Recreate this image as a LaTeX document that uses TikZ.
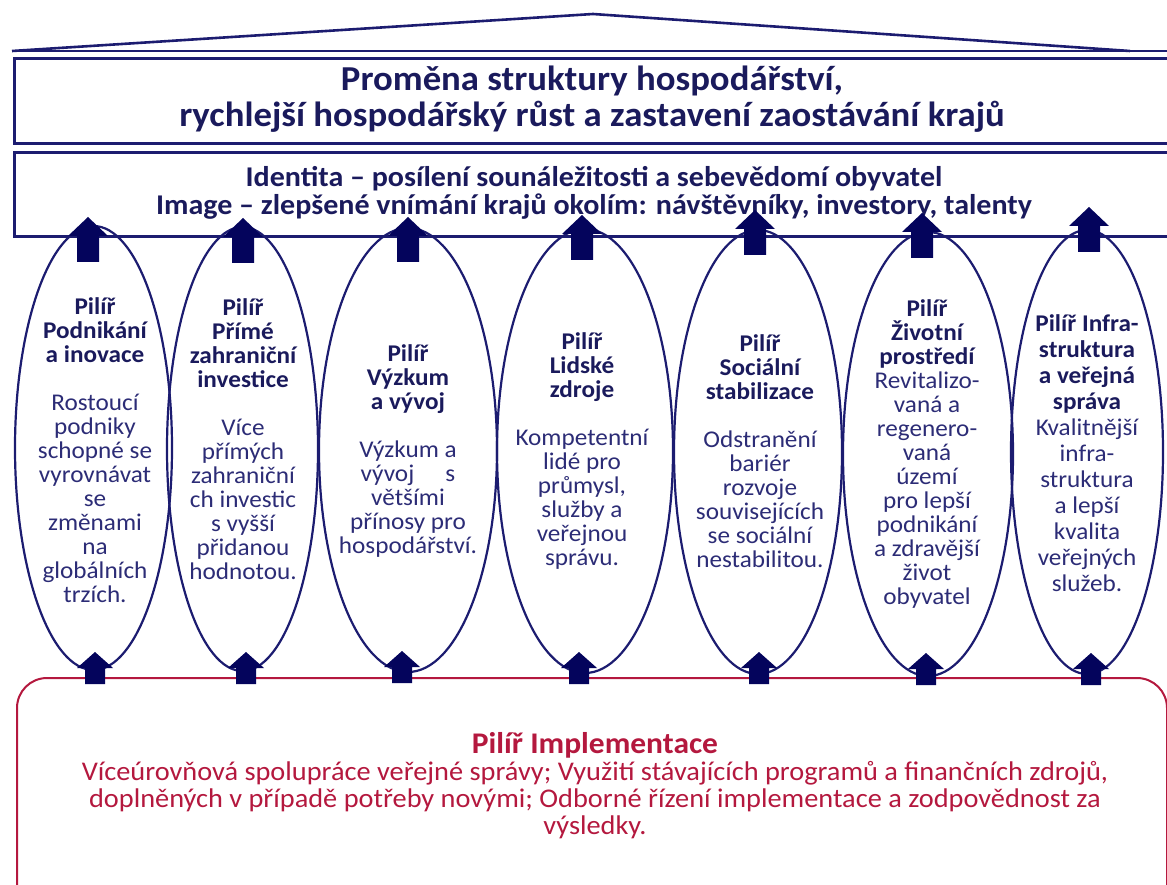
\documentclass[tikz,border=0pt]{standalone}
\usepackage{fontspec}
\setmainfont[FakeStretch=1.05]{Carlito}
\usetikzlibrary{shapes.geometric}
\definecolor{navy}{RGB}{28,28,112}
\definecolor{arrowc}{RGB}{4,4,92}
\definecolor{txtb}{RGB}{26,26,92}
\definecolor{txtn}{RGB}{44,44,118}
\definecolor{crim}{RGB}{180,24,62}
\begin{document}
\begin{tikzpicture}[x=1pt,y=-1pt,
  frame/.style={draw=navy,line width=2.6pt,rectangle,inner sep=0pt,anchor=north west},
  pillarline/.style={draw=navy,line width=2.2pt,ellipse,inner sep=0pt},
  ptext/.style={align=center,inner sep=0pt,text=txtn,font=\fontsize{24}{24}\selectfont},
  uparrowtop/.pic={\fill[arrowc] (0,0) -- (20,19) -- (11,19) -- (11,45) -- (-11,45) -- (-11,19) -- (-20,19) -- cycle;},
  uparrowbot/.pic={\fill[arrowc] (0,0) -- (18,16) -- (10,16) -- (10,32) -- (-10,32) -- (-10,16) -- (-18,16) -- cycle;}
]
\useasboundingbox (0,0) rectangle (1167,885);
% roof
\draw[navy,line width=2.6pt,line join=miter] (12,51) coordinate (rl) -- (593,14) coordinate (rp) -- (1130,51) coordinate (rr);
\draw[navy,line width=2.6pt] (12,51) -- (1180,51);
% goal box
\node[frame,minimum width=1170pt,minimum height=85pt] (goal) at (13,57.5) {};
\node[align=center,inner sep=0pt,text=txtb,font=\fontsize{35}{36}\selectfont\bfseries] (goaltext) at (592,99)
  {Proměna struktury hospodářství,\\rychlejší hospodářský růst a zastavení zaostávání krajů};
% identity box
\node[frame,minimum width=1170pt,minimum height=84pt] (ident) at (13,151) {};
\node[align=center,inner sep=0pt,text=txtb,font=\fontsize{28.6}{28}\selectfont\bfseries] (identtext) at (594,193)
  {Identita – posílení sounáležitosti a sebevědomí obyvatel\\Image – zlepšené vnímání krajů okolím: návštěvníky, investory, talenty};
% implementation box
\node[draw=crim,line width=2pt,rounded corners=30pt,rectangle,inner sep=0pt,anchor=north west,minimum width=1150pt,minimum height=240pt] (impl) at (16,677) {};
\node[align=center,inner sep=0pt,text=crim,font=\fontsize{27}{27}\selectfont] (impltext) at (595,786)
  {{\fontsize{30}{30}\selectfont\bfseries Pilíř Implementace}\\Víceúrovňová spolupráce veřejné správy; Využití stávajících programů a finančních zdrojů,\\doplněných v případě potřeby novými; Odborné řízení implementace a zodpovědnost za\\výsledky.};
% pillars
\node[pillarline,minimum width=157pt,minimum height=444pt] (e1) at (93.5,448) {};
\node[pillarline,minimum width=151pt,minimum height=444pt] (e2) at (242.5,449) {};
\node[pillarline,minimum width=178pt,minimum height=444pt] (e3) at (408,450) {};
\node[pillarline,minimum width=176pt,minimum height=444pt] (e4) at (585,451) {};
\node[pillarline,minimum width=168pt,minimum height=444pt] (e5) at (758,452) {};
\node[pillarline,minimum width=170pt,minimum height=444pt] (e6) at (928,454) {};
\node[pillarline,minimum width=152pt,minimum height=444pt] (e7) at (1087,452) {};
\node[ptext] (t1) at (95,450) {\textbf{\textcolor{txtb}{Pilíř}}\\\textbf{\textcolor{txtb}{Podnikání}}\\\textbf{\textcolor{txtb}{a inovace}}\\[24pt]Rostoucí\\podniky\\schopné se\\vyrovnávat\\se\\změnami\\na\\globálních\\trzích.};
\node[ptext] (t2) at (243,439) {\textbf{\textcolor{txtb}{Pilíř}}\\\textbf{\textcolor{txtb}{Přímé}}\\\textbf{\textcolor{txtb}{zahraniční}}\\\textbf{\textcolor{txtb}{investice}}\\[24pt]Více\\přímých\\zahraniční\\ch investic\\s vyšší\\přidanou\\hodnotou.};
\node[ptext] (t3) at (408,451) {\textbf{\textcolor{txtb}{Pilíř}}\\\textbf{\textcolor{txtb}{Výzkum}}\\\textbf{\textcolor{txtb}{a vývoj}}\\[24pt]Výzkum a\\vývoj\hspace{1.3em}s\\většími\\přínosy pro\\hospodářství.};
\node[ptext] (t4) at (582,451) {\textbf{\textcolor{txtb}{Pilíř}}\\\textbf{\textcolor{txtb}{Lidské}}\\\textbf{\textcolor{txtb}{zdroje}}\\[24pt]Kompetentní\\lidé pro\\průmysl,\\služby a\\veřejnou\\správu.};
\node[ptext] (t5) at (760,451) {\textbf{\textcolor{txtb}{Pilíř}}\\\textbf{\textcolor{txtb}{Sociální}}\\\textbf{\textcolor{txtb}{stabilizace}}\\[24pt]Odstranění\\bariér\\rozvoje\\souvisejících\\se sociální\\nestabilitou.};
\node[ptext] (t6) at (927,454) {\textbf{\textcolor{txtb}{Pilíř}}\\\textbf{\textcolor{txtb}{Životní}}\\\textbf{\textcolor{txtb}{prostředí}}\\Revitalizo-\\vaná a\\regenero-\\vaná\\území\\pro lepší\\podnikání\\a zdravější\\život\\obyvatel};
\node[ptext,font=\fontsize{24}{26}\selectfont] (t7) at (1087,453) {\textbf{\textcolor{txtb}{Pilíř Infra-}}\\\textbf{\textcolor{txtb}{struktura}}\\\textbf{\textcolor{txtb}{a veřejná}}\\\textbf{\textcolor{txtb}{správa}}\\Kvalitnější\\infra-\\struktura\\a lepší\\kvalita\\veřejných\\služeb.};
% arrows to the top
\pic at (88,217) {uparrowtop};
\pic at (243,218) {uparrowtop};
\pic at (408,217) {uparrowtop};
\pic at (582,215) {uparrowtop};
\pic at (755,210) {uparrowtop};
\pic at (922,213) {uparrowtop};
\pic at (1089,207) {uparrowtop};
% arrows from the bottom
\pic at (95,652) {uparrowbot};
\pic at (246,652) {uparrowbot};
\pic at (402,651) {uparrowbot};
\pic at (579,652) {uparrowbot};
\pic at (759,652) {uparrowbot};
\pic at (926,653) {uparrowbot};
\pic at (1091,653) {uparrowbot};
\end{tikzpicture}
\end{document}
